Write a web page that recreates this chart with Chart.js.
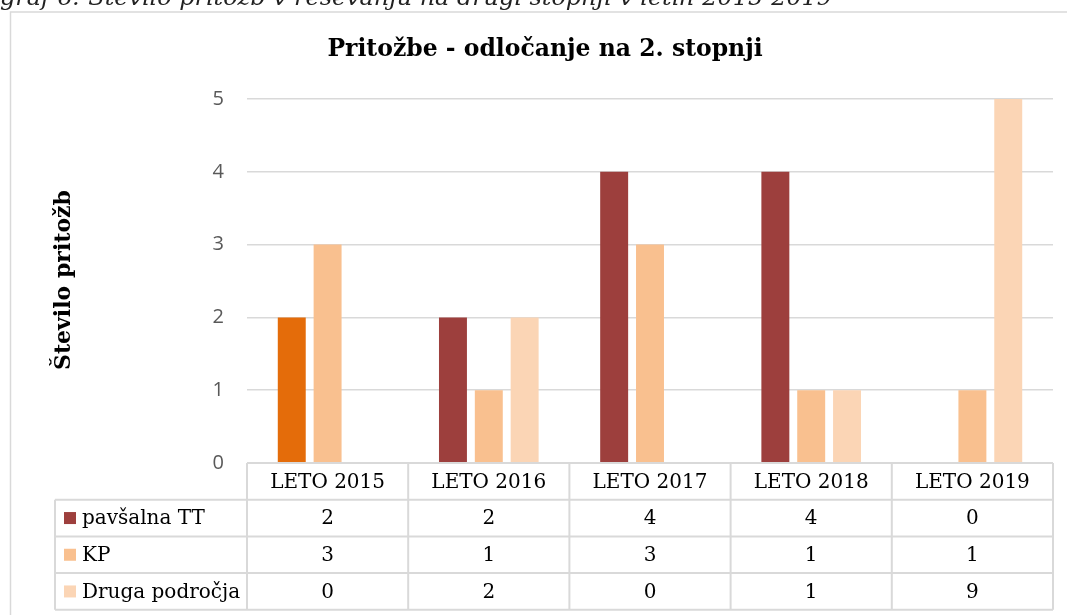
<!DOCTYPE html>
<html><head><meta charset="utf-8">
<script src="https://cdn.jsdelivr.net/npm/chart.js@4.4.0/dist/chart.umd.min.js"></script>
<style>html,body{margin:0;padding:0;background:#fff;overflow:hidden}canvas{display:block}</style>
</head><body>
<canvas id="c" width="1067" height="615"></canvas>
<script>
// ---- data ----
const categories = ['LETO 2015', 'LETO 2016', 'LETO 2017', 'LETO 2018', 'LETO 2019'];
const seriesNames = ['pavšalna TT', 'KP', 'Druga področja'];
const pavsalnaTT = [2, 2, 4, 4, 0];
const kp = [3, 1, 3, 1, 1];
const drugaPodrocja = [0, 2, 0, 1, 9];
const yTickValues = [0, 1, 2, 3, 4, 5];
const chartTitle = 'Pritožbe - odločanje na 2. stopnji';
const yAxisTitle = 'Število pritožb';
const caption = 'graf 6: Število pritožb v reševanju na drugi stopnji v letih 2015-2019';

// ---- styles ----
const seriesColors = ['#9D3F3D', '#F9C08F', '#FBD5B5'];
const highlightColor = '#E46C0A'; // first pavšalna TT bar (2015) is drawn in orange
const gridColor = '#D9D9D9';
const serif = '"DejaVu Serif", "Liberation Serif", serif';

const seriesValues = [pavsalnaTT, kp, drugaPodrocja];
const pavColors = pavsalnaTT.map((v, i) => i === 0 ? highlightColor : seriesColors[0]);

const decor = {
  id: 'decor',
  beforeDraw(chart) {
    const ctx = chart.ctx;
    ctx.save();
    ctx.fillStyle = '#fff';
    ctx.fillRect(0, 0, chart.width, chart.height);
    // outer frame (continues beyond the right and bottom edges)
    ctx.strokeStyle = gridColor;
    ctx.lineWidth = 1.5;
    ctx.strokeRect(10.5, 12, 1200, 800);
    // caption (clipped at the top)
    ctx.fillStyle = '#222';
    ctx.font = 'italic 22px ' + serif;
    ctx.textBaseline = 'alphabetic';
    ctx.textAlign = 'left';
    const w = ctx.measureText(caption).width;
    ctx.save();
    ctx.translate(0, 5);
    ctx.scale(832 / w, 1);
    ctx.fillText(caption, 0, 0);
    ctx.restore();
    // chart title
    ctx.fillStyle = '#000';
    ctx.font = 'bold 23.5px ' + serif;
    ctx.textAlign = 'center';
    ctx.fillText(chartTitle, 545, 56);
    // y axis title
    ctx.save();
    ctx.translate(70, 280);
    ctx.rotate(-Math.PI / 2);
    ctx.font = 'bold 22px ' + serif;
    ctx.textAlign = 'center';
    ctx.textBaseline = 'alphabetic';
    ctx.fillText(yAxisTitle, 0, 0);
    ctx.restore();
    ctx.restore();
  },
  afterDraw(chart) {
    const ctx = chart.ctx, xs = chart.scales.x, area = chart.chartArea;
    const n = categories.length;
    const catW = (xs.right - xs.left) / n;
    const rowH = 36.7;
    const top = area.bottom;
    const tableLeft = 55;
    const bottom = top + rowH * (seriesNames.length + 1);
    ctx.save();
    ctx.strokeStyle = gridColor;
    ctx.lineWidth = 2;
    ctx.beginPath();
    // header top line
    ctx.moveTo(xs.left, top); ctx.lineTo(xs.right, top);
    // row lines
    for (let r = 1; r <= seriesNames.length + 1; r++) {
      const y = top + rowH * r;
      ctx.moveTo(tableLeft, y); ctx.lineTo(xs.right, y);
    }
    // vertical lines
    for (let i = 0; i <= n; i++) {
      const x = xs.left + catW * i;
      ctx.moveTo(x, top); ctx.lineTo(x, bottom);
    }
    ctx.moveTo(tableLeft, top + rowH); ctx.lineTo(tableLeft, bottom);
    ctx.stroke();

    ctx.fillStyle = '#000';
    ctx.font = '20px ' + serif;
    ctx.textAlign = 'center';
    ctx.textBaseline = 'middle';
    categories.forEach((c, i) => {
      const cx = xs.getPixelForValue(i);
      ctx.fillText(c, cx, top + rowH / 2 + 1);
      seriesValues.forEach((vals, s) => {
        ctx.fillText(String(vals[i]), cx, top + rowH * (s + 1.5) + 1);
      });
    });
    ctx.textAlign = 'left';
    seriesNames.forEach((name, s) => {
      const cy = top + rowH * (s + 1.5);
      ctx.fillStyle = seriesColors[s];
      ctx.fillRect(64, cy - 6, 12, 12);
      ctx.fillStyle = '#000';
      ctx.fillText(name, 82, cy + 1);
    });
    ctx.restore();
  }
};

new Chart(document.getElementById('c'), {
  type: 'bar',
  data: {
    labels: categories,
    datasets: [
      { label: seriesNames[0], data: pavsalnaTT, backgroundColor: pavColors },
      { label: seriesNames[1], data: kp, backgroundColor: seriesColors[1] },
      { label: seriesNames[2], data: drugaPodrocja, backgroundColor: seriesColors[2] }
    ]
  },
  options: {
    responsive: false,
    devicePixelRatio: 1,
    animation: false,
    events: [],
    categoryPercentage: 0.667,
    barPercentage: 0.78,
    layout: { padding: { top: 99, bottom: 152, left: 0, right: 14 } },
    plugins: { legend: { display: false }, title: { display: false }, tooltip: { enabled: false } },
    scales: {
      x: { display: false },
      y: {
        min: yTickValues[0],
        max: yTickValues[yTickValues.length - 1],
        afterFit(scale) { scale.width = 247; },
        afterBuildTicks(scale) { scale.ticks = yTickValues.map(v => ({ value: v })); },
        border: { display: false },
        grid: { color: gridColor, lineWidth: 1.5, drawTicks: false },
        ticks: {
          padding: 23,
          color: '#595959',
          font: { family: '"Open Sans", "Liberation Sans", sans-serif', size: 20 }
        }
      }
    }
  },
  plugins: [decor]
});
</script>
</body></html>
